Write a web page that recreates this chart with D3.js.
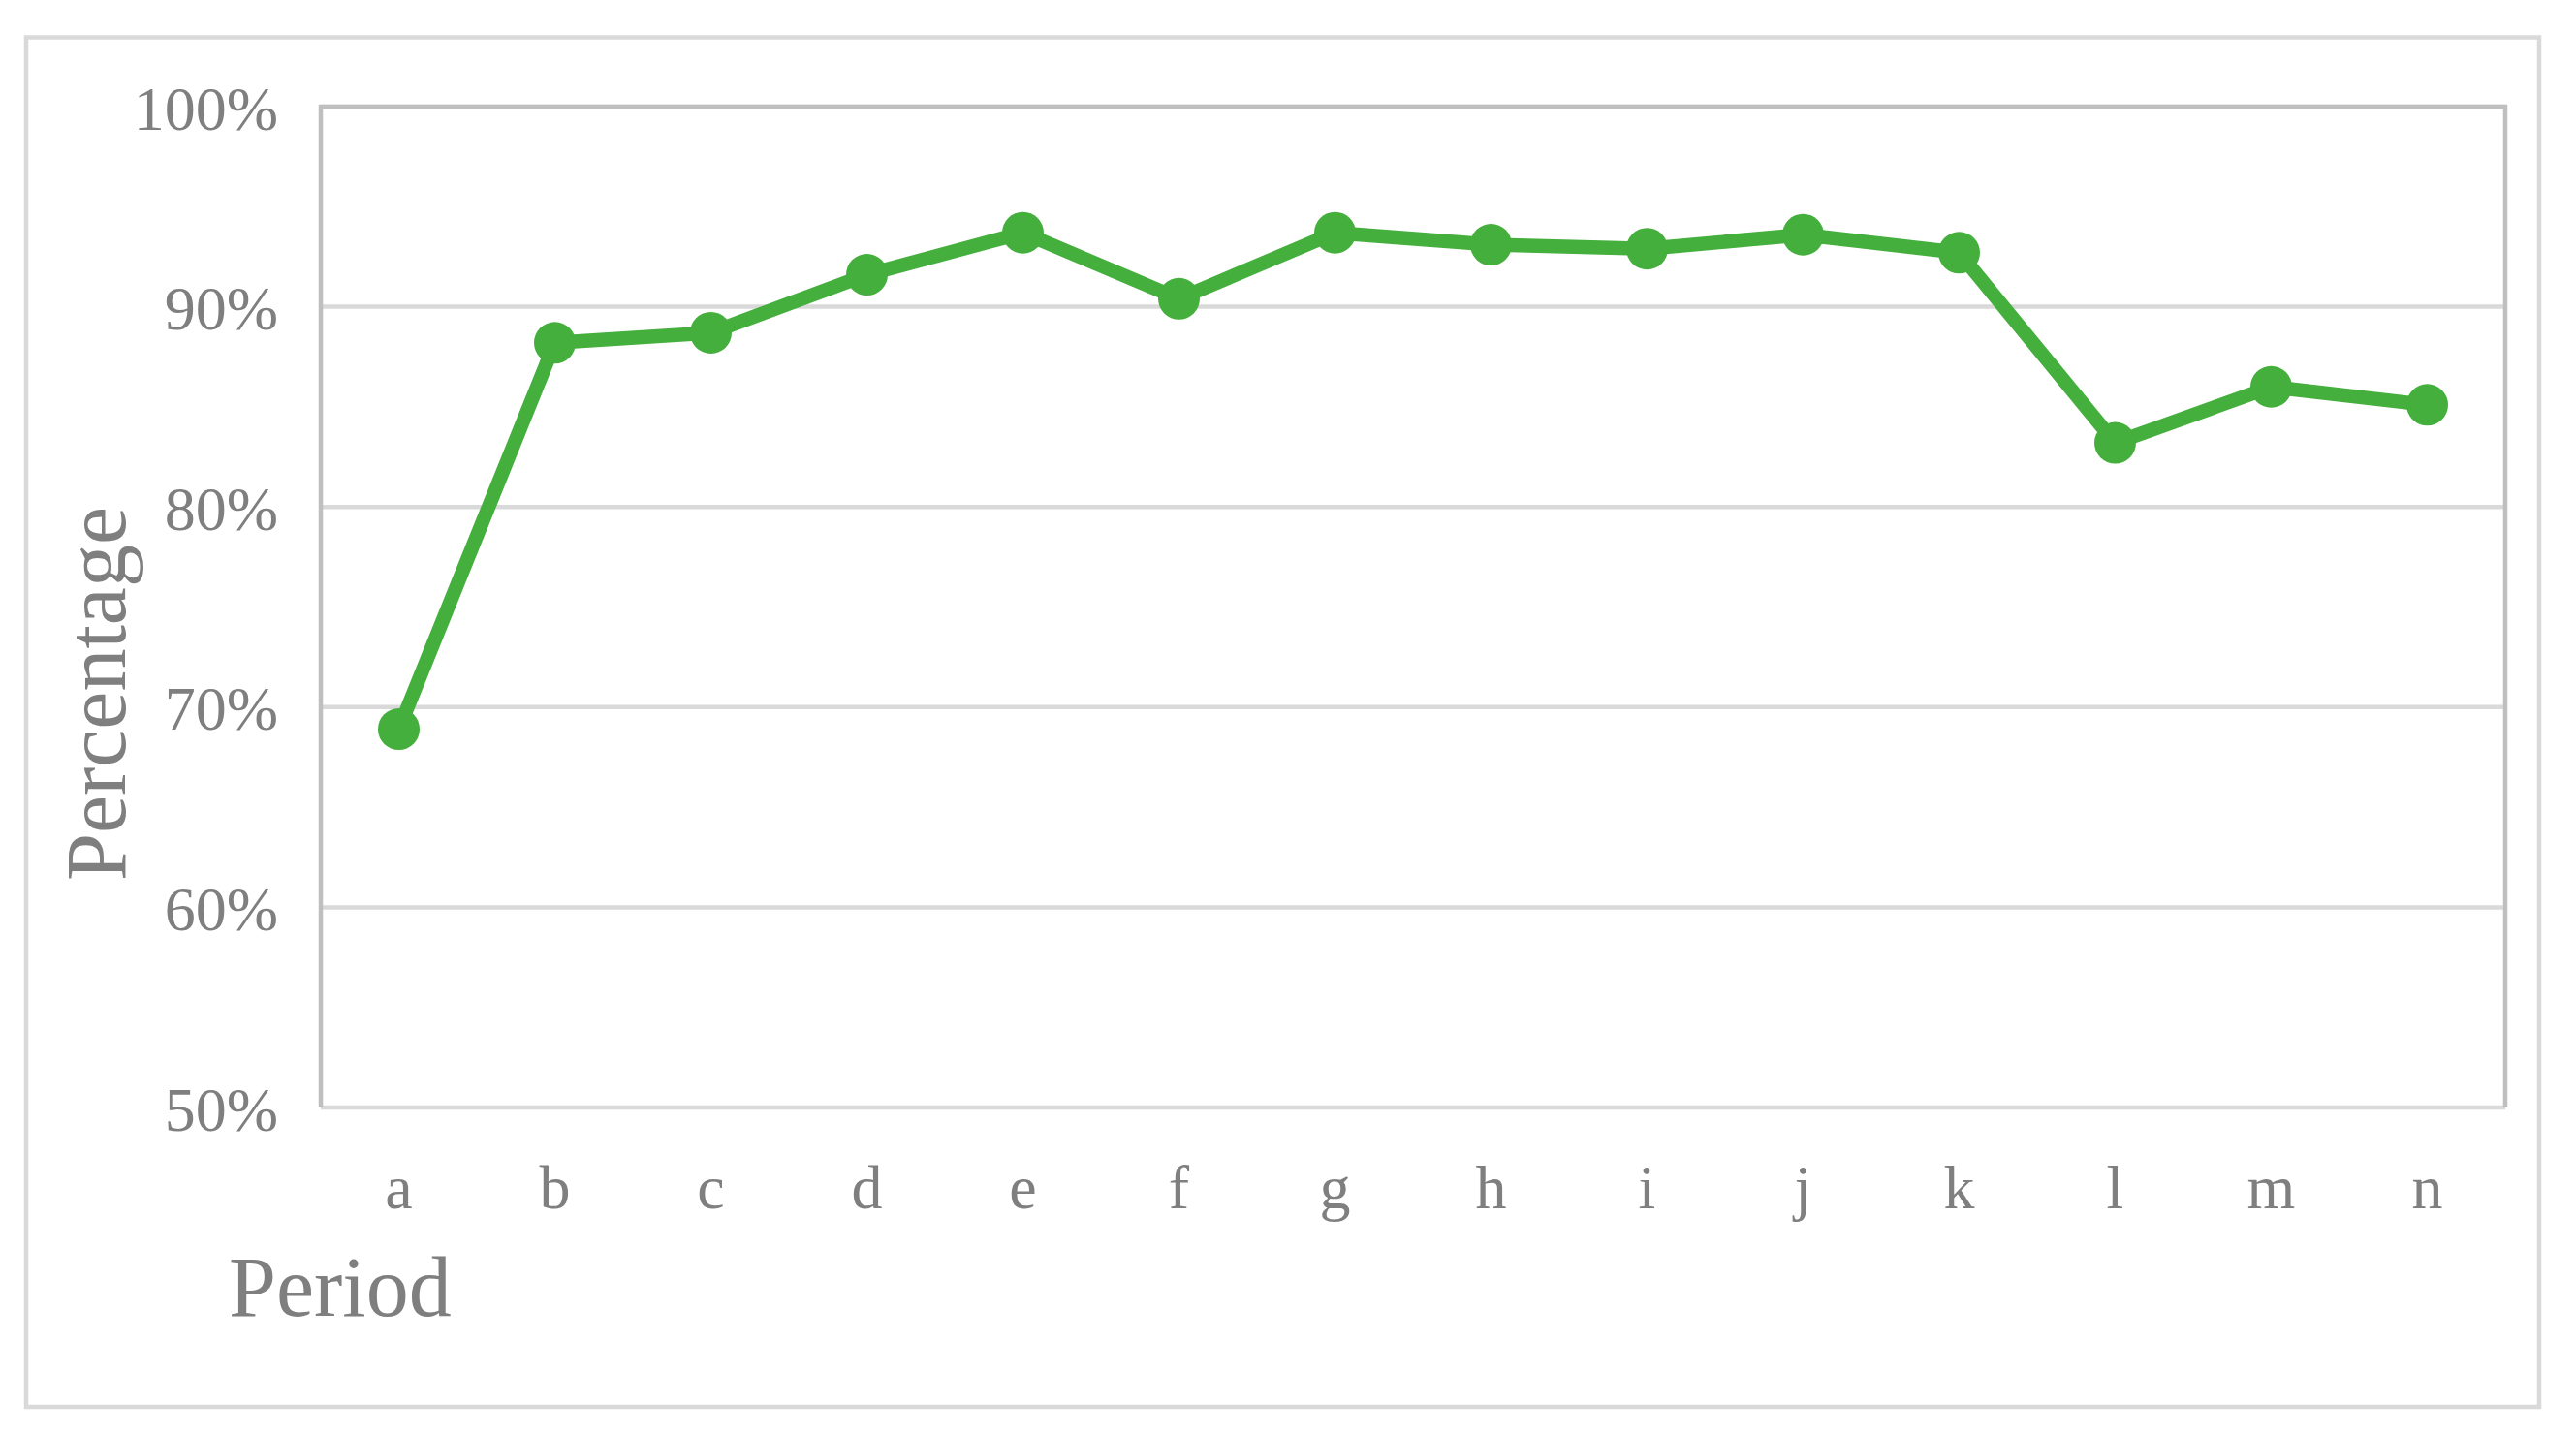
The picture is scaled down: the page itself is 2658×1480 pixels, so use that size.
<!DOCTYPE html>
<html>
<head>
<meta charset="utf-8">
<script src="https://cdn.jsdelivr.net/npm/d3@7"></script>
<style>
  html, body { margin: 0; padding: 0; background: #ffffff; }
  svg { display: block; }
  text { font-family: "Liberation Serif", "Times New Roman", serif; fill: #7f7f7f; }
</style>
</head>
<body>
<svg id="chart" width="2658" height="1480"></svg>
<script>
const categories = ["a","b","c","d","e","f","g","h","i","j","k","l","m","n"];
const values = [0.689, 0.882, 0.887, 0.916, 0.937, 0.904, 0.937, 0.931, 0.929, 0.936, 0.927, 0.832, 0.860, 0.851];
const yTicks = [0.5, 0.6, 0.7, 0.8, 0.9, 1.0];
const xTitle = "Period";
const yTitle = "Percentage";

const svg = d3.select("#chart");
const W = 2658, H = 1480;
const plot = { left: 331, right: 2585, top: 110, bottom: 1143 };

svg.append("rect").attr("x", 0).attr("y", 0).attr("width", W).attr("height", H).attr("fill", "#ffffff");

// outer border
svg.append("rect")
  .attr("x", 27).attr("y", 38.5)
  .attr("width", 2620 - 27).attr("height", 1452 - 38.5)
  .attr("fill", "none").attr("stroke", "#d9d9d9").attr("stroke-width", 4.5);

const x = d3.scaleBand().domain(categories).range([plot.left, plot.right]).padding(0);
const y = d3.scaleLinear().domain([0.5, 1.0]).range([plot.bottom, plot.top]);

// gridlines
svg.append("g").selectAll("line").data(yTicks).join("line")
  .attr("x1", plot.left).attr("x2", plot.right)
  .attr("y1", d => y(d)).attr("y2", d => y(d))
  .attr("stroke", "#d9d9d9").attr("stroke-width", 4.5);

// plot frame (left, top, right)
svg.append("path")
  .attr("d", `M${plot.left},${plot.bottom} L${plot.left},${y(1.0)} L${plot.right},${y(1.0)} L${plot.right},${plot.bottom}`)
  .attr("fill", "none").attr("stroke", "#bfbfbf").attr("stroke-width", 4.5);

// y axis labels
const yAxis = d3.axisLeft(y).tickValues(yTicks).tickFormat(d3.format(".0%")).tickSize(0).tickPadding(0);
const gy = svg.append("g").attr("transform", `translate(287,0)`).call(yAxis);
gy.select(".domain").remove();
gy.selectAll("text")
  .attr("font-size", 64)
  .attr("font-family", "Liberation Serif, Times New Roman, serif")
  .attr("fill", "#7f7f7f")
  .attr("dy", null)
  .attr("y", 23)
  .attr("x", 0)
  .attr("text-anchor", "end");

// x axis labels
const xAxis = d3.axisBottom(x).tickSize(0).tickPadding(0);
const gx = svg.append("g").attr("transform", `translate(0,0)`).call(xAxis);
gx.select(".domain").remove();
gx.selectAll("text")
  .attr("font-size", 64)
  .attr("font-family", "Liberation Serif, Times New Roman, serif")
  .attr("fill", "#7f7f7f")
  .attr("dy", null)
  .attr("y", 1247)
  .attr("text-anchor", "middle");

// line
const data = categories.map((c, i) => ({ c, v: values[i] }));
const line = d3.line().x(d => x(d.c) + x.bandwidth() / 2).y(d => y(d.v));
svg.append("path").datum(data)
  .attr("d", line)
  .attr("fill", "none")
  .attr("stroke", "#44af3c")
  .attr("stroke-width", 14.5)
  .attr("stroke-linejoin", "round");

svg.append("g").selectAll("circle").data(data).join("circle")
  .attr("cx", d => x(d.c) + x.bandwidth() / 2)
  .attr("cy", d => y(d.v))
  .attr("r", 21.5)
  .attr("fill", "#44af3c");

// titles
svg.append("text")
  .attr("x", 236).attr("y", 1358)
  .attr("font-size", 88)
  .text(xTitle);

svg.append("text")
  .attr("transform", `translate(129,716) rotate(-90)`)
  .attr("text-anchor", "middle")
  .attr("font-size", 88)
  .text(yTitle);
</script>
</body>
</html>
